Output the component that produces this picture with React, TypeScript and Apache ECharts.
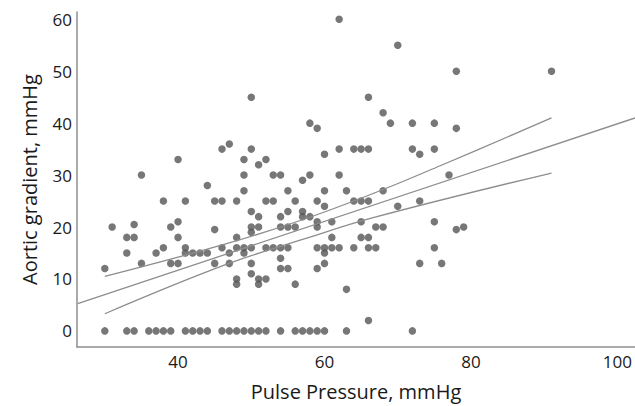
import { useEffect, useRef } from "react";
import * as echarts from "echarts";

// Pulse pressure (mmHg) of each patient
const pulsePressure = [
  30, 33, 34, 36, 37, 38, 39, 41, 42, 43, 44, 46, 47, 48, 49, 50, 51, 52, 54, 56, 57, 58, 59, 60, 63, 72,
  35, 40, 46, 47, 62, 50, 66, 58, 59, 50, 49, 51, 52, 60, 62, 64, 65, 66, 49, 53, 54, 58, 62, 70, 78, 91,
  68, 69, 72, 75, 78, 72, 73, 75, 77,
  44, 38, 41, 45, 46, 31, 34, 39, 40, 45, 33, 34, 40, 38, 41, 46, 33, 37, 41, 42, 43, 44, 47, 30, 35, 39,
  40, 45, 47,
  57, 49, 55, 60, 63, 48, 52, 53, 56, 59, 60, 64, 65, 66, 50, 51, 54, 55, 57, 57, 58, 59, 61, 65, 50, 50,
  51, 54, 55, 56, 59, 67, 68, 48, 61, 65, 66,
  48, 49, 50, 52, 53, 54, 55, 59, 60, 61, 62, 64, 66, 67,
  49, 60, 50, 60, 54, 54, 55, 59, 50, 48, 48, 51, 52, 51, 56, 63, 66,
  68, 70, 73, 75, 78, 79, 75, 73, 76,
];

// Aortic gradient (mmHg) of each patient, same order
const aorticGradient = [
  0, 0, 0, 0, 0, 0, 0, 0, 0, 0, 0, 0, 0, 0, 0, 0, 0, 0, 0, 0, 0, 0, 0, 0, 0, 0,
  30, 33, 35, 36, 60, 45, 45, 40, 39, 35, 33, 32, 33, 34, 35, 35, 35, 35, 30, 30, 30, 30, 30, 55, 50, 50,
  42, 40, 40, 40, 39, 35, 34, 35, 30,
  28, 25, 25, 25, 25, 20, 20.5, 20, 21, 19.5, 18, 18, 18, 16, 16, 16, 15, 15, 15, 15, 15, 15, 15, 12, 13, 13,
  13, 13, 13,
  29, 27, 27, 27, 27, 25, 25, 25, 25, 25, 24, 25, 25, 25, 23, 22, 22, 23, 23, 22, 22, 21, 21, 21, 20, 19,
  20, 20, 20, 20, 20, 20, 20, 18, 18, 18, 18,
  16, 16, 16, 16, 16, 16, 16, 16, 16, 16, 16, 16, 16, 16,
  15, 15, 13, 13, 14, 12, 12, 12, 11, 10, 9, 10, 10, 9, 9, 8, 2,
  27, 24, 25, 21, 19.5, 20, 16, 13, 13,
];

// Fitted regression line (end points)
const fitX = [26.3, 102.4];
const fitY = [5.25, 41.0];

// 95% confidence band of the mean
const upperX = [30, 46.4, 57, 66.9, 75.8, 91];
const upperY = [10.5, 16.7, 21.4, 26.6, 31.8, 41.0];
const lowerX = [30, 46.4, 57, 66.9, 91];
const lowerY = [3.3, 12.7, 17.6, 21.9, 30.4];

const xTitle = "Pulse Pressure, mmHg";
const yTitle = "Aortic gradient, mmHg";

const FONT = "'Open Sans', 'Noto Sans', sans-serif";

export default function App() {
  const ref = useRef<HTMLDivElement>(null);

  useEffect(() => {
    if (!ref.current) return;
    const chart = echarts.init(ref.current, undefined, { renderer: "svg" });
    const points = pulsePressure.map((x, i) => [x, aorticGradient[i]]);
    const pair = (xs: number[], ys: number[]) => xs.map((x, i) => [x, ys[i]]);
    const lineStyle = { color: "#8d8d8d", width: 1.3 };

    chart.setOption({
      animation: false,
      backgroundColor: "#ffffff",
      grid: { left: 77, top: 12, width: 558, height: 344, containLabel: false },
      xAxis: {
        type: "value",
        min: 26.2,
        max: 102.4,
        splitNumber: 4,
        name: xTitle,
        nameLocation: "middle",
        nameGap: 34,
        nameTextStyle: { fontFamily: FONT, fontSize: 20, color: "#1a1a1a" },
        axisLine: { show: true, onZero: false, lineStyle: { color: "#8f8f8f", width: 1.5 } },
        axisTick: { show: false },
        splitLine: { show: false },
        axisLabel: {
          fontFamily: FONT,
          fontSize: 17,
          color: "#1a1a1a",
          margin: 6,
          showMinLabel: false,
          showMaxLabel: false,
        },
      },
      yAxis: {
        type: "value",
        min: -3.1,
        max: 61.4,
        splitNumber: 5,
        name: yTitle,
        nameLocation: "middle",
        nameGap: 38,
        nameTextStyle: { fontFamily: FONT, fontSize: 20, color: "#1a1a1a" },
        axisLine: { show: true, onZero: false, lineStyle: { color: "#8f8f8f", width: 1.5 } },
        axisTick: { show: false },
        splitLine: { show: false },
        axisLabel: {
          fontFamily: FONT,
          fontSize: 17,
          color: "#1a1a1a",
          margin: 5,
          showMinLabel: false,
          showMaxLabel: false,
        },
      },
      series: [
        {
          type: "scatter",
          data: points,
          symbolSize: 7.5,
          itemStyle: { color: "#555555" },
          silent: true,
        },
        {
          type: "line",
          data: pair(fitX, fitY),
          showSymbol: false,
          clip: true,
          lineStyle,
          silent: true,
        },
        {
          type: "line",
          data: pair(upperX, upperY),
          showSymbol: false,
          smooth: 0.4,
          clip: true,
          lineStyle,
          silent: true,
        },
        {
          type: "line",
          data: pair(lowerX, lowerY),
          showSymbol: false,
          smooth: 0.4,
          clip: true,
          lineStyle,
          silent: true,
        },
      ],
    });

    return () => chart.dispose();
  }, []);

  return (
    <div
      ref={ref}
      style={{ position: "absolute", left: 0, top: 0, width: 635, height: 406, background: "#fff" }}
    />
  );
}
